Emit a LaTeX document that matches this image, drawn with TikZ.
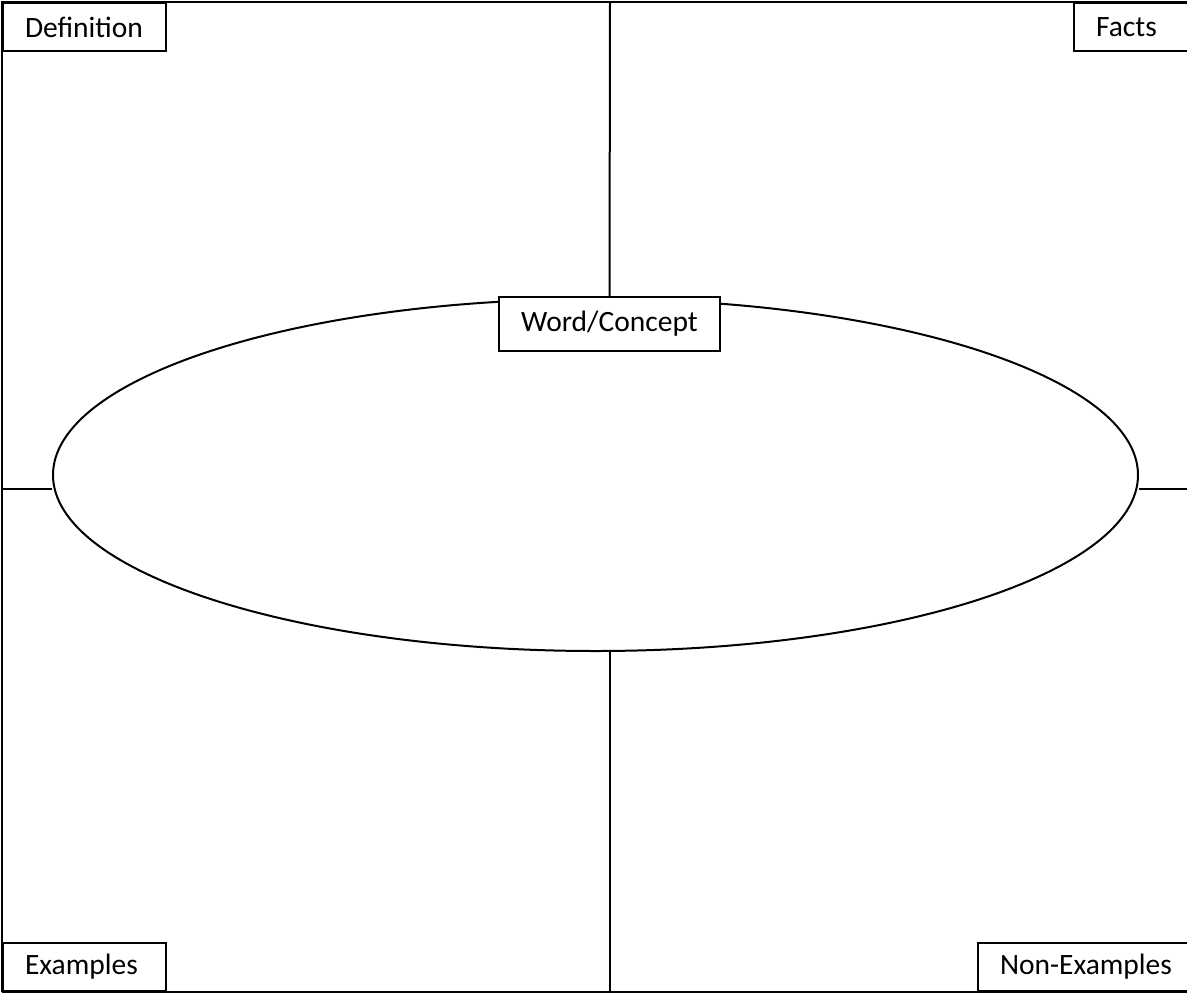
\documentclass[tikz,border=0pt]{standalone}
\usepackage{fontspec}
\setmainfont{Carlito}
\usepackage{tikz}
\usetikzlibrary{shapes.geometric}

\begin{document}
\begin{tikzpicture}
	[x=1pt,y=-1pt,line width=2pt,
		label box/.style={draw,fill=white,minimum height=48pt,inner xsep=22pt,inner ysep=0pt,font=\fontsize{29.5}{35}\selectfont},
		oval/.style={ellipse,draw,minimum width=1085pt,minimum height=352pt,inner sep=0pt}]

	\useasboundingbox (0,0) rectangle (1187,994);
	\clip (0,0) rectangle (1187,994);

	% frame and corners
	\coordinate (TL) at (2,2);
	\coordinate (TR) at (1192,2);
	\coordinate (BL) at (2,992);
	\coordinate (BR) at (1192,992);
	\draw (BL) -- (TL) -- (TR) -- (BR);
	\draw[line width=2.8pt] (BL) -- (BR);

	\node[oval] (concept) at (595.5,475) {};
	\node[label box,minimum width=221pt,minimum height=54pt,inner xsep=0pt] (word) at (609.5,324) {Word/Concept};

	\coordinate (top) at (610,2);
	\coordinate (bot) at (610,992);
	\coordinate (left) at (2,489);
	\coordinate (right) at (1192,489);

	\draw (top) -- (word.north);
	\draw (bot) -- (bot |- concept.south);
	\draw (left) -- (left -| concept.west);
	\draw (right) -- (right -| concept.east);

	\node[label box,anchor=north west,minimum width=163pt,text width=119pt,align=left] (def) at (TL) {Definition};
	\node[label box,anchor=north west,text width=76pt,align=left] (facts) at (1073,2) {Facts};
	\node[label box,anchor=south west,minimum width=163pt,text width=119pt,align=left] (ex) at (BL) {Examples};
	\node[label box,anchor=south west,text width=190pt,align=left] (nonex) at (977,992) {Non-Examples};

\end{tikzpicture}
\end{document}
